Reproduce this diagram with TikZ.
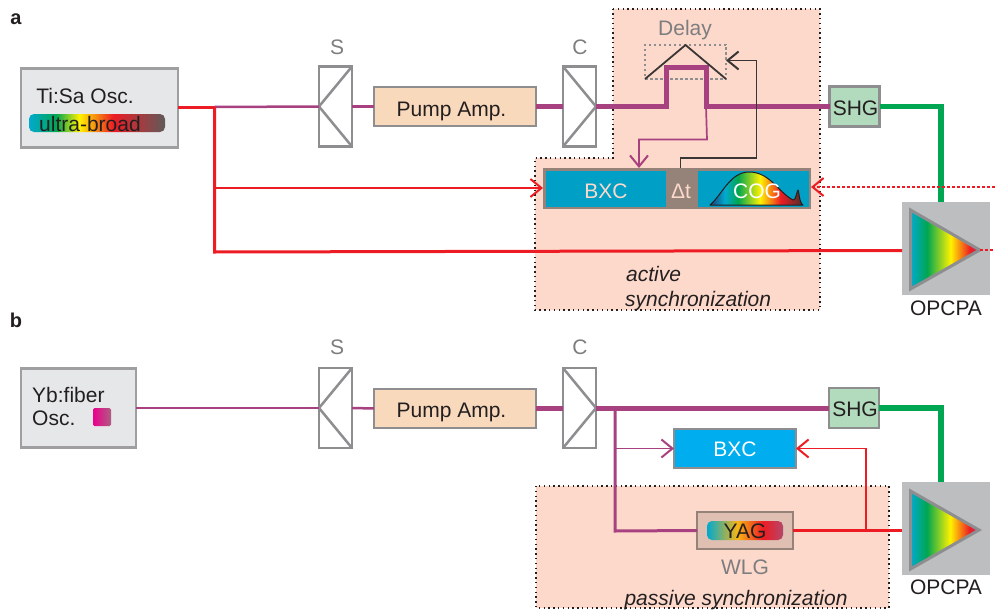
\documentclass[tikz,border=0pt]{standalone}
\usepackage{fontspec}
\setmainfont{Liberation Sans}
\usetikzlibrary{arrows.meta,calc}
\definecolor{beam}{HTML}{A8417F}
\definecolor{lred}{HTML}{ED1C24}
\definecolor{lgreen}{HTML}{00A651}
\definecolor{frame}{HTML}{8E8E91}
\definecolor{lightbox}{HTML}{E6E7E8}
\definecolor{pumpfill}{HTML}{F9D9BC}
\definecolor{shgfill}{HTML}{B2DABD}
\definecolor{syncfill}{HTML}{FDD9CB}
\definecolor{blueA}{HTML}{00A0C6}
\definecolor{blueB}{HTML}{00AEEF}
\definecolor{brownframe}{HTML}{958279}
\definecolor{amp}{HTML}{BCBEC0}
\definecolor{txt}{HTML}{231F20}
\definecolor{graytxt}{HTML}{7D7D80}
\definecolor{cA}{HTML}{00AACF}
\definecolor{cB}{HTML}{00A651}
\definecolor{cC}{HTML}{FFF200}
\definecolor{cD}{HTML}{ED1C24}
\definecolor{cE}{HTML}{5F5A5A}
\definecolor{cF}{HTML}{C2336C}
\definecolor{cG}{HTML}{B5476A}
\definecolor{cH}{HTML}{F7B512}
\definecolor{cI}{HTML}{EC008C}
\definecolor{cJ}{HTML}{AE5D83}
\definecolor{cK}{HTML}{1B3F7A}
\definecolor{cL}{HTML}{4A2F2A}
\pgfdeclarehorizontalshading{pillshade}{100bp}{color(0bp)=(cA); color(25bp)=(cA); color(35bp)=(cB); color(43.5bp)=(cC); color(56bp)=(cD); color(75bp)=(cE); color(100bp)=(cE)}
\pgfdeclarehorizontalshading{trishade}{100bp}{color(0bp)=(cA); color(25bp)=(cA); color(37bp)=(cB); color(54bp)=(cC); color(68bp)=(cD); color(75bp)=(cF); color(100bp)=(cF)}
\pgfdeclarehorizontalshading{yagshade}{100bp}{color(0bp)=(cA); color(25bp)=(cA); color(45bp)=(cH); color(62bp)=(cD); color(75bp)=(cG); color(100bp)=(cG)}
\pgfdeclarehorizontalshading{ybshade}{100bp}{color(0bp)=(cI); color(25bp)=(cI); color(75bp)=(cJ); color(100bp)=(cJ)}
\pgfdeclarehorizontalshading{humpshade}{100bp}{color(0bp)=(cK); color(25bp)=(cK); color(33bp)=(cA); color(40bp)=(cB); color(52bp)=(cC); color(63bp)=(cD); color(75bp)=(cL); color(100bp)=(cL)}
\tikzset{
  x=1pt,y=-1pt,
  txtstyle/.style={font=\fontsize{21}{24}\selectfont,text=txt,text height=15pt,text depth=0pt},
  base/.style={draw=frame,line width=2.8pt,inner sep=0pt,outer sep=0pt,anchor=center,txtstyle},
  osc/.style={base,draw=frame!85,fill=lightbox},
  pump/.style={base,fill=pumpfill,minimum width=162pt,minimum height=39pt},
  shg/.style={base,fill=shgfill,minimum width=50pt,minimum height=40pt},
  sbox/.style={base,fill=white,minimum width=33pt,minimum height=80pt,path picture={
    \draw[frame,line width=2.5pt] (path picture bounding box.north east)--(path picture bounding box.west)--(path picture bounding box.south east);}},
  cbox/.style={base,fill=white,minimum width=33pt,minimum height=80pt,path picture={
    \draw[frame,line width=2.5pt] (path picture bounding box.north west)--(path picture bounding box.east)--(path picture bounding box.south west);}},
  graylabel/.style={txtstyle,text=graytxt,inner sep=0pt},
  plainlabel/.style={txtstyle,inner sep=0pt},
  italiclabel/.style={txtstyle,inner sep=0pt,font=\fontsize{21}{24}\selectfont\itshape},
  panellabel/.style={txtstyle,inner sep=0pt,font=\fontsize{20}{24}\selectfont\bfseries},
  synczone/.style={fill=syncfill,draw=txt,line width=1.4pt,dash pattern=on 1.4pt off 3.4pt},
  amper/.style={fill=amp,inner sep=0pt,outer sep=0pt,minimum width=88pt,minimum height=93pt},
  tri/.style={draw=frame,line width=3pt,line join=miter,shading=trishade},
  thickbeam/.style={beam,line width=5pt,line join=miter},
  midbeam/.style={beam,line width=3pt,line join=miter},
  thinbeam/.style={beam,line width=1.7pt},
  redmid/.style={lred,line width=3pt,line join=miter},
  redthin/.style={lred,line width=1.7pt},
  greenbeam/.style={lgreen,line width=5.5pt,line join=miter},
  blackline/.style={draw={rgb,255:red,58;green,54;blue,54},line width=1.3pt},
  barb/.style={-{Straight Barb[length=11pt,width=18pt,line width=2pt]}},
  pill/.style={inner sep=0pt,outer sep=0pt,rounded corners=5pt},
}
\begin{document}
\begin{tikzpicture}
\useasboundingbox (0,0) rectangle (995,610);
% sync zones
\path[synczone] (613,9) -- (820,9) -- (820,310) -- (535,310) -- (535,158) -- (613,158) -- cycle;
\path[synczone] (536,486) rectangle (889,608);

% ---------- panel a ----------
\node[panellabel] (la) at (16,17) {a};
\node[osc,minimum width=157pt,minimum height=79pt] (tisa) at (99.5,108) {};
\node[plainlabel] (tisat) at (85,96) {Ti:Sa Osc.};
\node[pill,shade,shading=pillshade,minimum width=136pt,minimum height=18pt] (ultra) at (97,123) {};
\node[plainlabel] (ultrat) at (90,124) {ultra-broad};
\node[sbox] (sa) at (335.5,106.5) {};
\node[graylabel] (sal) at (337,47) {S};
\node[pump] (pa) at (455,106.5) {};
\node[plainlabel] (pat) at (451.5,108.5) {Pump Amp.};
\node[cbox] (ca) at (579.5,106.5) {};
\node[graylabel] (cal) at (580,47) {C};
\node[shg] (sha) at (854.5,106.5) {};
\node[plainlabel] (shat) at (855.5,107.5) {SHG};
\node[graylabel] (dl) at (685,28) {Delay};
\node[draw=frame,line width=2.5pt,dash pattern=on 2.5pt off 2.5pt,inner sep=0pt,outer sep=0pt,minimum width=81pt,minimum height=34pt] (delay) at (685.5,62) {};

% composite box
\node[fill=brownframe,inner sep=0pt,outer sep=0pt,minimum width=268pt,minimum height=41pt] (sync) at (677,188.5) {};
\node[fill=blueA,inner sep=0pt,outer sep=0pt,minimum width=120pt,minimum height=36pt] (bxca) at (605.5,188.5) {};
\node[txtstyle,text=syncfill,inner sep=0pt] (bxct) at (606,190.5) {BXC};
\node[txtstyle,text=syncfill,inner sep=0pt] (dt) at (681,190.5) {Δt};
\node[fill=blueA,inner sep=0pt,outer sep=0pt,minimum width=111pt,minimum height=36pt] (coga) at (753.5,188.5) {};
\shade[shading=humpshade,draw=txt,line width=1pt,line join=round]
  (710,205) .. controls (722,195) and (730,172) .. (749,172)
  .. controls (770,172) and (778,192) .. (793,200)
  .. controls (796,201) and (797,190) .. (798,190) .. controls (799,190) and (799,203) .. (803,205) -- cycle;
\node[txtstyle,text=white,inner sep=0pt] (cogt) at (757,190.5) {COG};

% opcpa a
\node[amper] (oa) at (946,248.5) {};
\coordinate (oaTL) at (910.5,210);
\coordinate (oaBL) at (910.5,289);
\coordinate (oaTip) at (979.7,250);
\shade[tri] (oaTL) -- (oaTip) -- (oaBL) -- cycle;
\node[plainlabel] (oal) at (946,308) {OPCPA};

% connectors a
\coordinate (ja) at (214.5,107);
\coordinate (jb) at (214.5,188);
\coordinate (jc) at (214.5,252);
\coordinate (oaIn) at (oa.west |- 0,250.5);
\draw[redmid] (tisa.east |- ja) -- (ja);
\draw[beam,line width=2.5pt] (ja) -- (sa.west);
\draw[beam,line width=2.5pt] (sa.east) -- (pa.west);
\draw[redmid] (ja) -- (jc) -- (oaIn);
\draw[redthin,barb] (jb) -- (sync.west |- jb);
\draw[thickbeam] (pa.east) -- (ca.west);
\coordinate (u1) at (666,106.5);
\coordinate (u2) at (666,67);
\coordinate (u3) at (706,67);
\coordinate (u4) at (706,106.5);
\draw[thickbeam] (ca.east) -- (u1) -- (u2) -- (u3) -- (u4) -- (sha.west);
\draw[blackline,line width=1.8pt] (delay.south west) -- (delay.north) -- (delay.south east);
\coordinate (p1) at (707,139.5);
\coordinate (p2) at (639,139.5);
\draw[thinbeam,barb] (u4) -- (p1) -- (p2) -- (p2 |- sync.north);
\coordinate (k0) at (680.5,168);
\coordinate (k1) at (680.5,158);
\coordinate (k2) at (756.5,158);
\coordinate (k3) at (756.5,60.5);
\draw[blackline,barb] (k0) -- (k1) -- (k2) -- (k3) -- (delay.east |- k3);
\draw[greenbeam] (sha.east) -- (941,106.5) -- (941,202);
\coordinate (re) at (995,187);
\draw[redthin,densely dashed,barb] (re) -- (sync.east |- re);
\coordinate (rt) at (995,250);
\draw[redthin,densely dashed] (oaTip) -- (rt);
\node[italiclabel,anchor=west] (act1) at (626,273.5) {active};
\node[italiclabel,anchor=west] (act2) at (625,298.5) {synchronization};

% ---------- panel b ----------
\node[panellabel] (lb) at (16,320) {b};
\node[osc,minimum width=115pt,minimum height=79pt] (yb) at (78.5,408) {};
\node[plainlabel,anchor=west] (ybt1) at (32,395) {Yb:fiber};
\node[plainlabel,anchor=west] (ybt2) at (32,418) {Osc.};
\node[pill,rounded corners=1.5pt,shade,shading=ybshade,minimum width=18pt,minimum height=18pt] (ybc) at (102,417) {};
\node[sbox] (sb) at (335.5,408) {};
\node[graylabel] (sbl) at (337,347) {S};
\node[pump] (pb) at (455,408.5) {};
\node[plainlabel] (pbt) at (451.5,409.5) {Pump Amp.};
\node[cbox] (cb) at (579.5,408) {};
\node[graylabel] (cbl) at (580,347) {C};
\node[shg] (shb) at (854,408) {};
\node[plainlabel] (shbt) at (855,408.5) {SHG};
\node[base,fill=blueB,minimum width=122pt,minimum height=39pt,text=white] (bxcb) at (735,448.5) {BXC};
\node[base,draw=brownframe,fill=brownframe!30!syncfill,minimum width=96pt,minimum height=37pt] (wlg) at (745,530.5) {};
\node[pill,shade,shading=yagshade,minimum width=76pt,minimum height=19pt] (yag) at (745,530.5) {};
\node[plainlabel] (yagt) at (745,531) {YAG};
\node[graylabel] (wlgl) at (745,567) {WLG};
\node[amper] (ob) at (946,528.5) {};
\coordinate (obTL) at (910.5,491);
\coordinate (obBL) at (910.5,569);
\coordinate (obTip) at (979,530);
\shade[tri] (obTL) -- (obTip) -- (obBL) -- cycle;
\node[plainlabel] (obl) at (946,587) {OPCPA};
\node[italiclabel] (pas) at (736,597.5) {passive synchronization};

% connectors b
\draw[beam,line width=2.5pt] (yb.east) -- (sb.west);
\draw[beam,line width=2.5pt] (sb.east) -- (pb.west);
\draw[thickbeam] (pb.east |- cb.west) -- (cb.west);
\draw[thickbeam] (cb.east) -- (shb.west);
\coordinate (b1) at (615,408);
\coordinate (b2) at (615,448.5);
\coordinate (b3) at (615,531);
\draw[midbeam] (b1) -- (b3) -- (wlg.west);
\draw[thinbeam,barb] (b2) -- (bxcb.west);
\draw[greenbeam] (shb.east) -- (941,408) -- (941,482);
\coordinate (r1) at (866,530.5);
\coordinate (r2) at (866,448.5);
\draw[redmid,line width=2.4pt] (wlg.east) -- (ob.west |- wlg.east);
\draw[redthin,barb] (r1) -- (r2) -- (bxcb.east);
\end{tikzpicture}
\end{document}
